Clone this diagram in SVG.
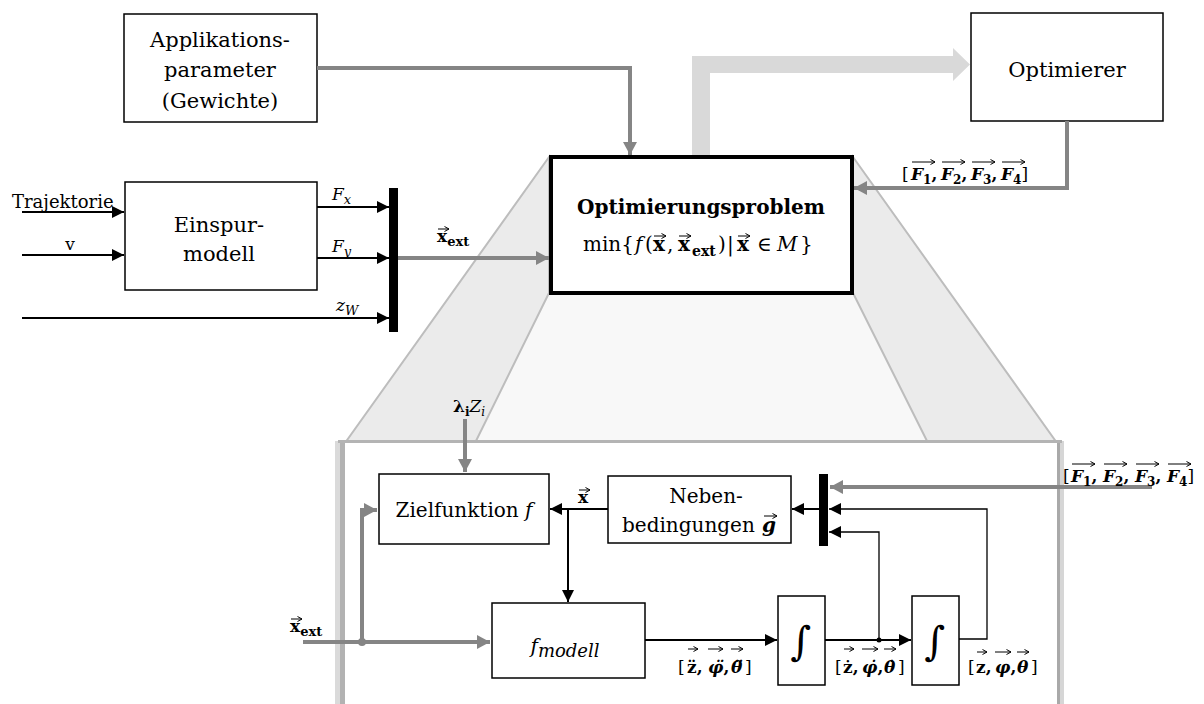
<svg xmlns="http://www.w3.org/2000/svg" width="1204" height="704" viewBox="0 0 1204 704">
  <style>
    text { font-family: "DejaVu Serif", "Liberation Serif", serif; fill: #000; }
    .lbl { font-size: 20px; text-anchor: middle; }
    .big { font-size: 21px; }
    .sm { font-size: 17px; }
    .b { font-weight: bold; }
    .n { font-weight: normal; }
    .i { font-style: italic; }
    .box { fill: #fff; stroke: #000; stroke-width: 1.5; }
    .blk { fill: none; stroke: #000; stroke-width: 2; }
    .thin { fill: none; stroke: #000; stroke-width: 1.3; }
    .gry { fill: none; stroke: #858585; stroke-width: 4; }
    .vec { fill: none; stroke: #000; stroke-width: 1; }
    .band { fill: #ebebeb; stroke: #bdbdbd; stroke-width: 2; }
  </style>
  <defs>
    <marker id="ab" markerUnits="userSpaceOnUse" markerWidth="12" markerHeight="12" refX="12" refY="6" orient="auto">
      <path d="M0,0 L12,6 L0,12 z" fill="#000"/>
    </marker>
    <marker id="ag" markerUnits="userSpaceOnUse" markerWidth="14" markerHeight="14" refX="13" refY="7" orient="auto">
      <path d="M0,0 L13,7 L0,14 z" fill="#858585"/>
    </marker>
    <marker id="av" markerUnits="userSpaceOnUse" markerWidth="6" markerHeight="6" refX="5" refY="3" orient="auto">
      <path d="M0.5,0.5 L5,3 L0.5,5.5" fill="none" stroke="#000" stroke-width="1"/>
    </marker>
  </defs>

  <!-- zoom projection from the optimisation problem down to its detail panel -->
  <g id="projection">
    <polygon points="549,293 475,443 928,443 853,293" fill="#f8f8f8"/>
    <polygon class="band" points="549,157 345,443 475,443 549,293"/>
    <polygon class="band" points="853,157 1057,443 928,443 853,293"/>
  </g>

  <!-- detail panel with soft edge shading -->
  <g id="panel">
    <rect x="335" y="441" width="5" height="263" fill="#dadada"/>
    <rect x="340" y="441" width="5" height="263" fill="#b2b2b2"/>
    <rect x="1060" y="441" width="4" height="263" fill="#d6d6d6"/>
    <rect x="1057" y="441" width="3" height="263" fill="#a9a9a9"/>
    <rect x="338" y="440" width="724" height="3" fill="#b4b4b4"/>
    <rect x="345" y="443" width="712" height="261" fill="#fff"/>
  </g>

  <!-- wide data path to the optimiser -->
  <polygon id="to-optimizer" points="692,157 692,56 953,56 953,48 970,64.5 953,81 953,73 710,73 710,157" fill="#d9d9d9"/>

  <g id="applikationsparameter">
    <rect class="box" x="124" y="14" width="193" height="108"/>
    <text class="lbl big" x="220" y="47">Applikations-</text>
    <text class="lbl big" x="220" y="77">parameter</text>
    <text class="lbl big" x="220" y="108">(Gewichte)</text>
  </g>

  <g id="optimierer">
    <rect class="box" x="971" y="13" width="192" height="108"/>
    <text class="lbl big" x="1067" y="77">Optimierer</text>
  </g>

  <g id="einspurmodell">
    <rect class="box" x="125" y="182" width="192" height="108"/>
    <text class="lbl big" x="219" y="232">Einspur-</text>
    <text class="lbl big" x="219" y="261">modell</text>
  </g>

  <g id="mux-outer">
    <rect x="389" y="188" width="9" height="144" fill="#000"/>
  </g>

  <g id="optimierungsproblem">
    <rect x="551" y="157" width="301" height="136" fill="#fff" stroke="#000" stroke-width="4"/>
    <text class="lbl b" x="701" y="214">Optimierungsproblem</text>
    <text font-size="20" y="251"><tspan x="583">min{</tspan><tspan x="635" class="i">f</tspan><tspan x="645">(</tspan><tspan x="653" class="b">x</tspan><tspan x="667">,</tspan><tspan x="678" class="b">x</tspan><tspan x="692" class="b" font-size="14" dy="5">ext</tspan><tspan x="718" dy="-5">)</tspan><tspan x="727">|</tspan><tspan x="737" class="b">x</tspan><tspan x="757">∈</tspan><tspan x="777" class="i">M</tspan><tspan x="800">}</tspan></text>
    <path class="vec" d="M654,236 H666" marker-end="url(#av)"/>
    <path class="vec" d="M679,236 H691" marker-end="url(#av)"/>
    <path class="vec" d="M738,236 H750" marker-end="url(#av)"/>
  </g>

  <g id="zielfunktion">
    <rect class="box" x="379" y="474" width="170" height="70"/>
    <text class="lbl" x="464" y="517">Zielfunktion <tspan class="i">f</tspan></text>
  </g>

  <g id="nebenbedingungen">
    <rect class="box" x="608" y="476" width="183" height="67"/>
    <text class="lbl" x="706" y="503">Neben-</text>
    <text font-size="20" x="622" y="532">bedingungen</text>
    <text font-size="20" class="b i" x="762" y="532">g</text>
    <path class="vec" d="M764,516 H777" marker-end="url(#av)"/>
  </g>

  <g id="mux-inner">
    <rect x="819" y="474" width="9" height="72" fill="#000"/>
  </g>

  <g id="fmodell">
    <rect class="box" x="492" y="603" width="153" height="75"/>
    <text class="lbl i" x="565" y="653" font-size="22">f<tspan font-size="18" dy="4">modell</tspan></text>
  </g>

  <g id="integrator1">
    <rect class="box" x="778" y="596" width="47" height="89"/>
    <text x="801" y="655" font-size="40" text-anchor="middle">∫</text>
  </g>

  <g id="integrator2">
    <rect class="box" x="912" y="596" width="47" height="89"/>
    <text x="935" y="655" font-size="40" text-anchor="middle">∫</text>
  </g>

  <g id="connectors">
    <!-- gray signal paths -->
    <path class="gry" d="M317,68 H630 V155" marker-end="url(#ag)"/>
    <path class="gry" d="M1067,121 V188 H854" marker-end="url(#ag)"/>
    <path class="gry" d="M398,258 H549" marker-end="url(#ag)"/>
    <path class="gry" d="M465,419 V472" marker-end="url(#ag)"/>
    <path class="gry" d="M303,642 H490" marker-end="url(#ag)"/>
    <path class="gry" d="M362,642 V510 H377" marker-end="url(#ag)"/>
    <circle cx="362" cy="642" r="4" fill="#858585"/>
    <path class="gry" d="M1152,487 H830" marker-end="url(#ag)"/>

    <!-- black signal paths -->
    <path class="blk" d="M22,212 H124" marker-end="url(#ab)"/>
    <path class="blk" d="M22,255 H124" marker-end="url(#ab)"/>
    <path class="blk" d="M22,318 H389" marker-end="url(#ab)"/>
    <path class="blk" d="M317,207 H389" marker-end="url(#ab)"/>
    <path class="blk" d="M317,258 H389" marker-end="url(#ab)"/>
    <path class="blk" d="M608,509 H550" marker-end="url(#ab)"/>
    <path class="blk" d="M568,509 V602" marker-end="url(#ab)"/>
    <path class="blk" d="M819,509 H792" marker-end="url(#ab)"/>
    <path class="blk" d="M645,640 H777" marker-end="url(#ab)"/>
    <path class="blk" d="M825,640 H911" marker-end="url(#ab)"/>
    <path class="thin" d="M879,640 V532 H829" marker-end="url(#ab)"/>
    <path class="thin" d="M959,639 H987 V509 H829" marker-end="url(#ab)"/>
    <circle cx="879" cy="640" r="2.5" fill="#000"/>
  </g>

  <g id="labels">
    <text font-size="18" x="12" y="208">Trajektorie</text>
    <text class="sm" x="70" y="250" text-anchor="middle">v</text>
    <text class="sm i" x="332" y="200">F<tspan font-size="13" dy="4">x</tspan></text>
    <text class="sm i" x="332" y="252">F<tspan font-size="13" dy="4">y</tspan></text>
    <text class="sm i" x="336" y="311">z<tspan font-size="13" dy="4">W</tspan></text>

    <text class="sm b" x="437" y="242">x<tspan font-size="13" dy="4">ext</tspan></text>
    <path class="vec" d="M438,229 H449" marker-end="url(#av)"/>

    <text class="sm" x="453" y="412"><tspan class="b">λ</tspan><tspan class="b" font-size="12" dy="4">i</tspan><tspan class="i" dy="-4">Z</tspan><tspan class="i" font-size="12" dy="4">i</tspan></text>

    <text class="sm b" x="578" y="503">x</text>
    <path class="vec" d="M579,490 H590" marker-end="url(#av)"/>

    <text class="sm b" x="290" y="632">x<tspan font-size="13" dy="4">ext</tspan></text>
    <path class="vec" d="M291,619 H302" marker-end="url(#av)"/>

    <!-- force vector, outer loop -->
    <text class="sm b" y="180"><tspan x="902" class="n">[</tspan><tspan x="911" class="i">F</tspan><tspan font-size="12" dy="4">1</tspan><tspan dy="-4">,</tspan><tspan x="941" class="i">F</tspan><tspan font-size="12" dy="4">2</tspan><tspan dy="-4">,</tspan><tspan x="971" class="i">F</tspan><tspan font-size="12" dy="4">3</tspan><tspan dy="-4">,</tspan><tspan x="1001" class="i">F</tspan><tspan font-size="12" dy="4">4</tspan><tspan dy="-4" class="n">]</tspan></text>
    <path class="vec" d="M912,162 H935" marker-end="url(#av)"/>
    <path class="vec" d="M942,162 H965" marker-end="url(#av)"/>
    <path class="vec" d="M972,162 H995" marker-end="url(#av)"/>
    <path class="vec" d="M1002,162 H1025" marker-end="url(#av)"/>

    <!-- force vector, detail panel -->
    <text class="sm b" y="482"><tspan x="1063" class="n">[</tspan><tspan x="1071" class="i">F</tspan><tspan font-size="12" dy="4">1</tspan><tspan dy="-4">,</tspan><tspan x="1103" class="i">F</tspan><tspan font-size="12" dy="4">2</tspan><tspan dy="-4">,</tspan><tspan x="1135" class="i">F</tspan><tspan font-size="12" dy="4">3</tspan><tspan dy="-4">,</tspan><tspan x="1167" class="i">F</tspan><tspan font-size="12" dy="4">4</tspan><tspan dy="-4" class="n">]</tspan></text>
    <path class="vec" d="M1072,464 H1095" marker-end="url(#av)"/>
    <path class="vec" d="M1104,464 H1127" marker-end="url(#av)"/>
    <path class="vec" d="M1136,464 H1159" marker-end="url(#av)"/>
    <path class="vec" d="M1168,464 H1191" marker-end="url(#av)"/>

    <!-- state vectors between the integrators -->
    <text class="sm b" y="673"><tspan x="678" class="n">[</tspan><tspan x="687">z̈</tspan>,<tspan x="708" class="i">φ̈</tspan>,<tspan x="731" class="i">θ̈</tspan><tspan x="745" class="n">]</tspan></text>
    <path class="vec" d="M688,649 H698" marker-end="url(#av)"/>
    <path class="vec" d="M708,649 H723" marker-end="url(#av)"/>
    <path class="vec" d="M731,649 H743" marker-end="url(#av)"/>

    <text class="sm b" y="673"><tspan x="835" class="n">[</tspan><tspan x="843">ż</tspan>,<tspan x="862" class="i">φ̇</tspan>,<tspan x="884" class="i">θ̇</tspan><tspan x="898" class="n">]</tspan></text>
    <path class="vec" d="M844,649 H854" marker-end="url(#av)"/>
    <path class="vec" d="M862,649 H878" marker-end="url(#av)"/>
    <path class="vec" d="M884,649 H896" marker-end="url(#av)"/>

    <text class="sm b" y="673"><tspan x="968" class="n">[</tspan><tspan x="976">z</tspan>,<tspan x="995" class="i">φ</tspan>,<tspan x="1017" class="i">θ</tspan><tspan x="1031" class="n">]</tspan></text>
    <path class="vec" d="M977,652 H987" marker-end="url(#av)"/>
    <path class="vec" d="M995,652 H1011" marker-end="url(#av)"/>
    <path class="vec" d="M1017,652 H1029" marker-end="url(#av)"/>
  </g>
</svg>
